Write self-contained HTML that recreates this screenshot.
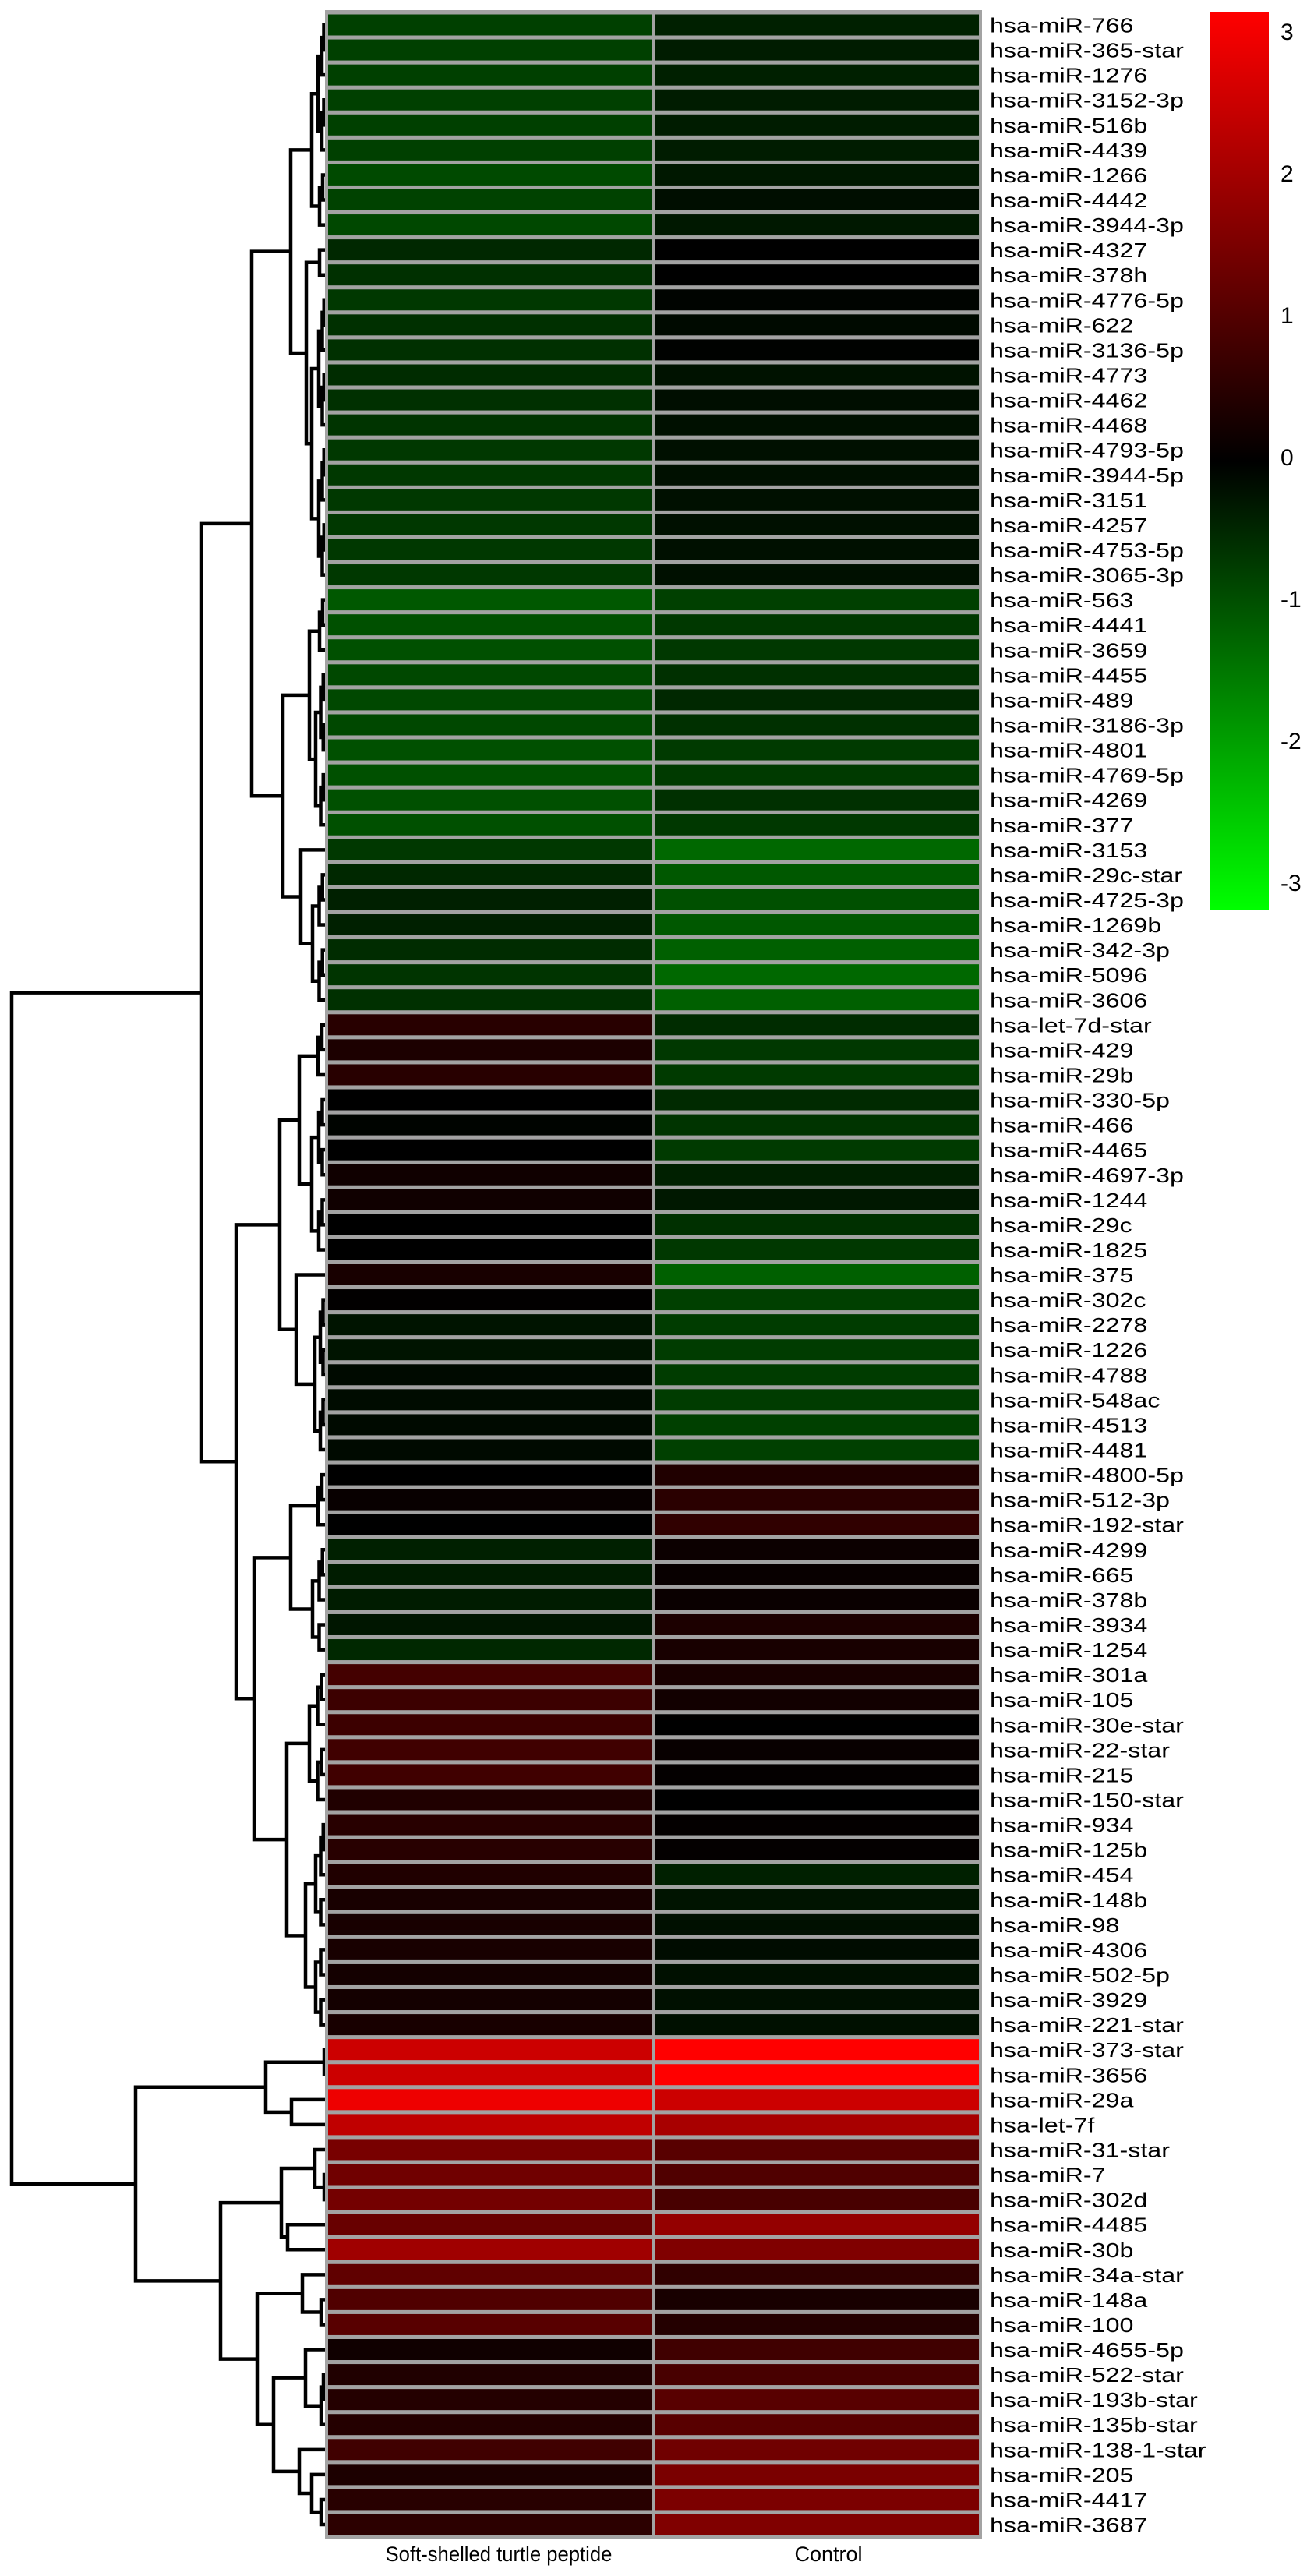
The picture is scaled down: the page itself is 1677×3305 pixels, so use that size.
<!DOCTYPE html>
<html><head><meta charset="utf-8"><title>miRNA heatmap</title>
<style>
html,body{margin:0;padding:0;background:#fff;}
svg{display:block;}
text{font-family:"Liberation Sans",Arial,sans-serif;fill:#000;}
</style></head>
<body>
<svg id="chart" width="1677" height="3305" viewBox="0 0 1677 3305" xmlns="http://www.w3.org/2000/svg">
<defs>
<linearGradient id="cbar" x1="0" y1="0" x2="0" y2="1">
<stop offset="0" stop-color="#ff0000"/>
<stop offset="0.5" stop-color="#000000"/>
<stop offset="1" stop-color="#00ff00"/>
</linearGradient>
</defs>
<g id="dendro"></g>
<rect x="417" y="13" width="843" height="3245" fill="#a3a3a3"/>
<g id="cells"></g>
<g id="labels" transform="translate(1270,0) scale(1.24,1)"></g>
<rect x="1552" y="16" width="76" height="1152" fill="url(#cbar)"/>
<g id="cticks"></g>
<text x="640" y="3286" font-size="27" text-anchor="middle" transform="translate(640,0) scale(0.95,1) translate(-640,0)">Soft-shelled turtle peptide</text>
<text x="1063" y="3286" font-size="27" text-anchor="middle">Control</text>
</svg>
<script>
const rowNames = ["hsa-miR-766","hsa-miR-365-star","hsa-miR-1276","hsa-miR-3152-3p","hsa-miR-516b","hsa-miR-4439","hsa-miR-1266","hsa-miR-4442","hsa-miR-3944-3p","hsa-miR-4327","hsa-miR-378h","hsa-miR-4776-5p","hsa-miR-622","hsa-miR-3136-5p","hsa-miR-4773","hsa-miR-4462","hsa-miR-4468","hsa-miR-4793-5p","hsa-miR-3944-5p","hsa-miR-3151","hsa-miR-4257","hsa-miR-4753-5p","hsa-miR-3065-3p","hsa-miR-563","hsa-miR-4441","hsa-miR-3659","hsa-miR-4455","hsa-miR-489","hsa-miR-3186-3p","hsa-miR-4801","hsa-miR-4769-5p","hsa-miR-4269","hsa-miR-377","hsa-miR-3153","hsa-miR-29c-star","hsa-miR-4725-3p","hsa-miR-1269b","hsa-miR-342-3p","hsa-miR-5096","hsa-miR-3606","hsa-let-7d-star","hsa-miR-429","hsa-miR-29b","hsa-miR-330-5p","hsa-miR-466","hsa-miR-4465","hsa-miR-4697-3p","hsa-miR-1244","hsa-miR-29c","hsa-miR-1825","hsa-miR-375","hsa-miR-302c","hsa-miR-2278","hsa-miR-1226","hsa-miR-4788","hsa-miR-548ac","hsa-miR-4513","hsa-miR-4481","hsa-miR-4800-5p","hsa-miR-512-3p","hsa-miR-192-star","hsa-miR-4299","hsa-miR-665","hsa-miR-378b","hsa-miR-3934","hsa-miR-1254","hsa-miR-301a","hsa-miR-105","hsa-miR-30e-star","hsa-miR-22-star","hsa-miR-215","hsa-miR-150-star","hsa-miR-934","hsa-miR-125b","hsa-miR-454","hsa-miR-148b","hsa-miR-98","hsa-miR-4306","hsa-miR-502-5p","hsa-miR-3929","hsa-miR-221-star","hsa-miR-373-star","hsa-miR-3656","hsa-miR-29a","hsa-let-7f","hsa-miR-31-star","hsa-miR-7","hsa-miR-302d","hsa-miR-4485","hsa-miR-30b","hsa-miR-34a-star","hsa-miR-148a","hsa-miR-100","hsa-miR-4655-5p","hsa-miR-522-star","hsa-miR-193b-star","hsa-miR-135b-star","hsa-miR-138-1-star","hsa-miR-205","hsa-miR-4417","hsa-miR-3687"];
const groups = ["Soft-shelled turtle peptide","Control"];
const turtleValues = [-0.75,-0.75,-0.75,-0.75,-0.75,-0.75,-0.87,-0.78,-0.85,
-0.47,-0.56,-0.66,-0.56,-0.56,-0.52,-0.56,-0.61,-0.66,-0.66,-0.66,-0.66,-0.66,-0.66,
-1.04,-0.94,-0.94,-0.85,-0.85,-0.85,-0.94,-0.94,-0.94,-0.94,
-0.66,-0.47,-0.38,-0.38,-0.52,-0.61,-0.56,
0.47,0.33,0.47,0,-0.05,0,0.19,0.19,0,0,0.28,0.02,-0.24,-0.24,-0.12,-0.14,-0.12,-0.12,
0,0.09,0,-0.38,-0.33,-0.33,-0.26,-0.47,
0.8,0.71,0.71,0.75,0.75,0.38,0.47,0.47,0.38,0.28,0.28,0.28,0.24,0.24,0.28,
2.4,2.4,2.8,2.26,1.41,1.32,1.36,1.22,1.88,1.13,0.94,1.04,0.19,0.38,0.42,0.42,0.75,0.33,0.47,0.52];
const controlValues = [-0.38,-0.33,-0.38,-0.33,-0.33,-0.33,-0.28,-0.16,-0.28,
0,0,-0.05,-0.12,-0.02,-0.21,-0.16,-0.19,-0.19,-0.19,-0.19,-0.19,-0.19,-0.19,
-0.75,-0.66,-0.66,-0.56,-0.47,-0.56,-0.68,-0.68,-0.56,-0.66,
-1.22,-1.04,-0.94,-1.04,-1.13,-1.22,-1.13,
-0.52,-0.66,-0.68,-0.49,-0.61,-0.68,-0.38,-0.28,-0.56,-0.66,-1.13,-0.75,-0.71,-0.71,-0.71,-0.71,-0.75,-0.75,
0.38,0.49,0.56,0.14,0.09,0.12,0.33,0.28,
0.28,0.21,0,0.09,0.05,0,0.05,0.05,-0.38,-0.24,-0.19,-0.14,-0.19,-0.19,-0.19,
3,3,2.4,1.98,1.04,0.94,0.85,1.74,1.51,0.56,0.28,0.42,0.75,0.85,1.04,1.04,1.32,1.44,1.46,1.51];
const scaleTicks = [3,2,1,0,-1,-2,-3];

const NS = "http://www.w3.org/2000/svg";
const top0 = 16, pitch = 32.07, cellH = 27;
const colX = [421, 841], colW = [415, 415];
function yRow(i){ return top0 + i*pitch; }
function yCenter(i){ return top0 + (i+0.5)*pitch; }
function color(v){
  const t = Math.min(1, Math.abs(v)/3), c = Math.round(t*255);
  return v >= 0 ? `rgb(${c},0,0)` : `rgb(0,${c},0)`;
}
function mk(tag, attrs, parent){
  const e = document.createElementNS(NS, tag);
  for (const k in attrs) e.setAttribute(k, attrs[k]);
  parent.appendChild(e); return e;
}
const cells = document.getElementById('cells');
const series = [turtleValues, controlValues];
series.forEach((vals, c) => {
  vals.forEach((v, i) => {
    const r = mk('rect', {x: colX[c], y: yRow(i)+2.5, width: colW[c], height: cellH, fill: color(v)}, cells);
    
    
  });
});
const labels = document.getElementById('labels');
rowNames.forEach((n, i) => {
  const t = mk('text', {x: 0, y: yCenter(i)+9.5, 'font-size': 26}, labels);
  t.textContent = n;
  
  
});
const cticks = document.getElementById('cticks');
function yScale(v){ return 586 - v*182; }
scaleTicks.forEach(v => {
  const t = mk('text', {x: 1643, y: yScale(v)+11, 'font-size': 30}, cticks);
  t.textContent = String(v);
  
  
});

// dendrogram (leaf indices 1-based)
function lad(a, b, x){
  if (a === b) return a;
  const m = Math.floor((a+b)/2), nx = x + (418-x)/2;
  return [x, lad(a, m, nx), lad(m+1, b, nx)];
}
const A1a = [373, [400, lad(1,6,408), lad(7,9,410)], [393, lad(10,11,410), lad(12,23,400)]];
const A1b = [363, [397, lad(24,26,410), lad(27,33,405)], [386, 34, lad(35,40,401)]];
const A2a = [359, [384, lad(41,43,408), lad(44,50,400)], [380, 51, lad(52,58,404)]];
const A2b = [326, [373, lad(59,61,408), lad(62,66,401)], [368, lad(67,72,397), lad(73,81,392)]];
const B2a = [361, [404, 86, [416,87,88]], [369, 89, 90]];
const B2b = [330, [388, 91, [412,92,93]], [351, [392, 94, lad(95,97,412)], [384, 98, [400, 99, [412,100,101]]]]];
const tree = [15, [258, [323, A1a, A1b], [303, A2a, A2b]], [174, [341, [416,82,83], [374,84,85]], [283, B2a, B2b]]];
const dendro = document.getElementById('dendro');
let d = "";
function draw(node){
  if (typeof node === 'number') return {x: 419, y: yCenter(node-1)};
  const l = draw(node[1]), r = draw(node[2]), x = node[0];
  d += `M${l.x} ${l.y}H${x}V${r.y}H${r.x}`;
  return {x, y: (l.y + r.y)/2};
}
draw(tree);
const p = mk('path', {d, fill: 'none', stroke: '#000', 'stroke-width': 4.5, 'stroke-linejoin': 'miter'}, dendro);


</script>
</body></html>
